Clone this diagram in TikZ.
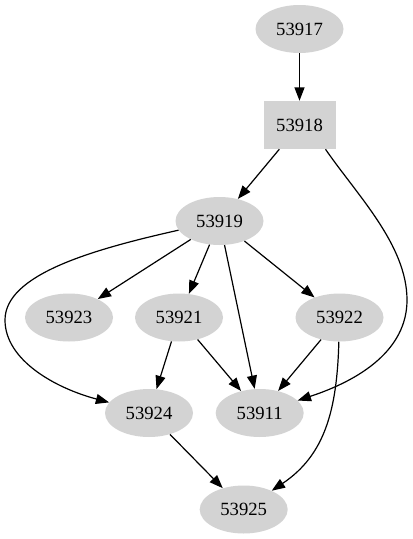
\documentclass[tikz,border=0pt]{standalone}
\usepackage{fontspec}
\setmainfont{Liberation Serif}
\usetikzlibrary{arrows.meta,shapes.geometric}
\definecolor{nodegray}{RGB}{211,211,211}
\begin{document}
\begin{tikzpicture}[x=0.75pt,y=-0.75pt,
  gnode/.style={ellipse,fill=nodegray,minimum width=66pt,minimum height=36pt,inner sep=0pt,font=\fontsize{14}{16}\selectfont},
  gbox/.style={rectangle,fill=nodegray,minimum width=54pt,minimum height=36pt,inner sep=0pt,font=\fontsize{14}{16}\selectfont},
  gedge/.style={line width=0.9pt,-{Triangle[length=10pt,width=7.5pt]}}]

\useasboundingbox (0,0) rectangle (412,539);

%nodes, rank by rank
\node[gnode] (n53917) at (299.5,29) {53917};
\node[gbox]  (n53918) at (299.5,125) {53918};
\node[gnode] (n53919) at (219.5,221) {53919};
\node[gnode] (n53923) at (69,317.5) {53923};
\node[gnode] (n53921) at (179,317.5) {53921};
\node[gnode] (n53922) at (339.5,317.5) {53922};
\node[gnode] (n53924) at (149,413) {53924};
\node[gnode] (n53911) at (259.7,413) {53911};
\node[gnode] (n53925) at (243.7,509.5) {53925};

%straight edges
\draw[gedge] (n53917) -- (n53918);
\draw[gedge] (n53918) -- (n53919);
\draw[gedge] (n53919) -- (n53923);
\draw[gedge] (n53919) -- (n53921);
\draw[gedge] (n53919) -- (n53922);
\draw[gedge] (n53919) -- (n53911);
\draw[gedge] (n53921) -- (n53924);
\draw[gedge] (n53921) -- (n53911);
\draw[gedge] (n53922) -- (n53911);
\draw[gedge] (n53924) -- (n53925);

%curved edges
\draw[gedge] (n53918.-43) .. controls (357,195) and (407,245) .. (407,300)
  .. controls (407,350) and (360,380) .. (n53911);
\draw[gedge] (n53919) .. controls (90,250) and (5,275) .. (5,320)
  .. controls (5,360) and (55,388) .. (n53924);
\draw[gedge] (n53922) .. controls (337,410) and (325,455) .. (n53925);

\end{tikzpicture}
\end{document}
